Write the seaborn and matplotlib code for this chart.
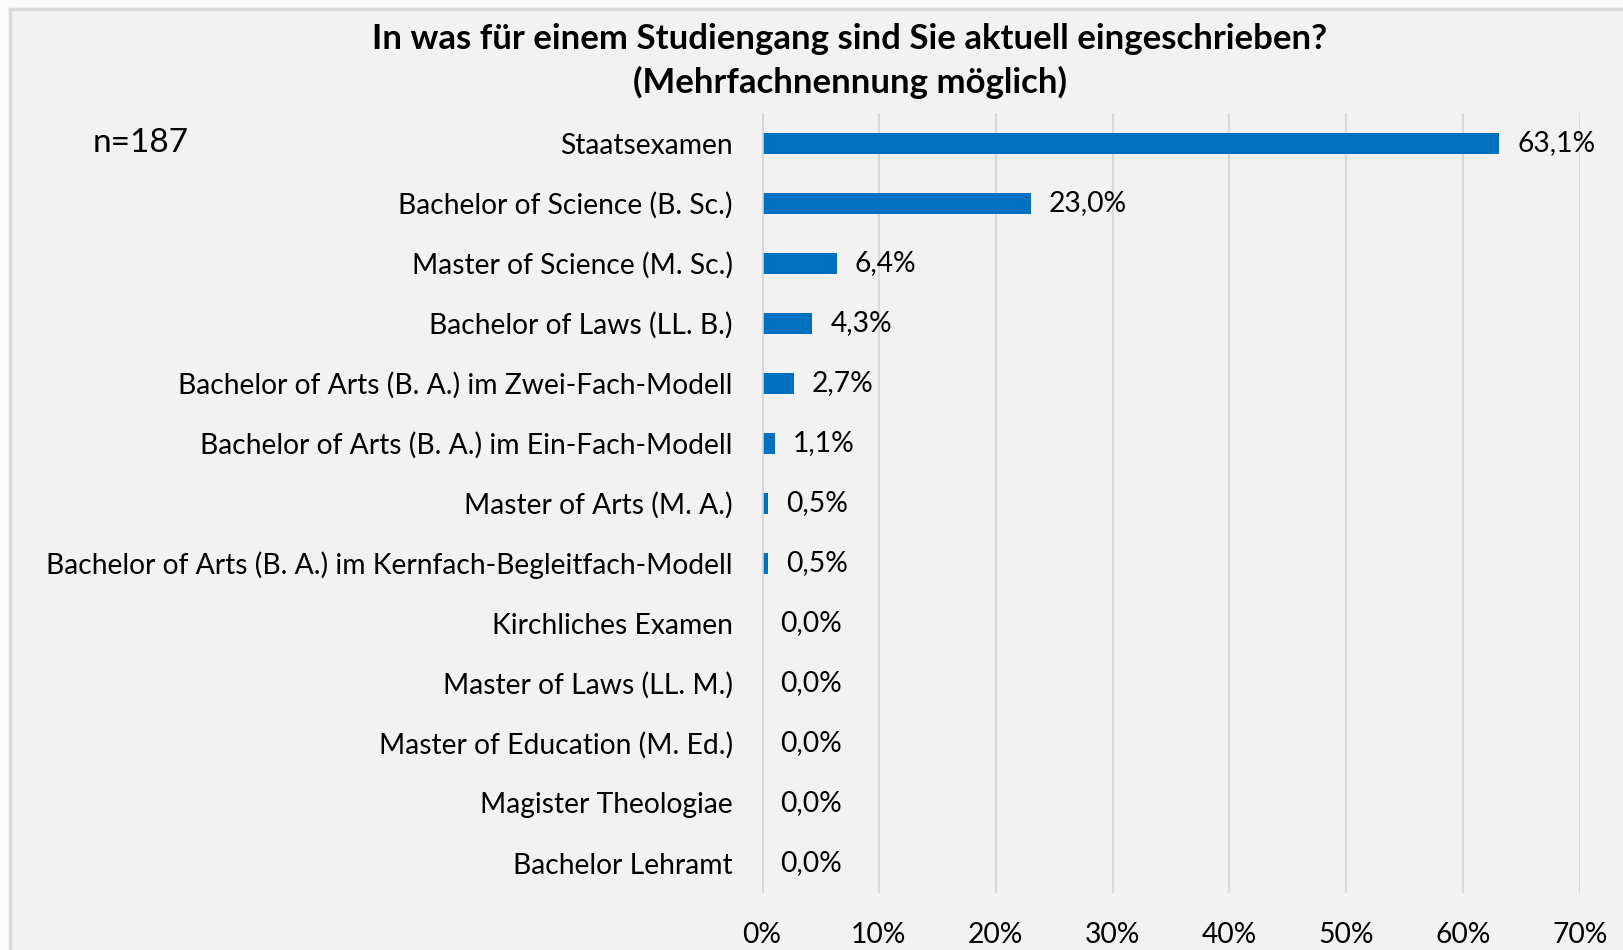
import matplotlib
matplotlib.use("Agg")
import matplotlib.pyplot as plt
import seaborn as sns
import pandas as pd
from matplotlib.patches import Rectangle

categories = [
    "Staatsexamen",
    "Bachelor of Science (B. Sc.)",
    "Master of Science (M. Sc.)",
    "Bachelor of Laws (LL. B.)",
    "Bachelor of Arts (B. A.) im Zwei-Fach-Modell",
    "Bachelor of Arts (B. A.) im Ein-Fach-Modell",
    "Master of Arts (M. A.)",
    "Bachelor of Arts (B. A.) im Kernfach-Begleitfach-Modell",
    "Kirchliches Examen",
    "Master of Laws (LL. M.)",
    "Master of Education (M. Ed.)",
    "Magister Theologiae",
    "Bachelor Lehramt",
]
values = [0.631, 0.230, 0.064, 0.043, 0.027, 0.011, 0.005, 0.005, 0.0, 0.0, 0.0, 0.0, 0.0]
value_labels = ["63,1%", "23,0%", "6,4%", "4,3%", "2,7%", "1,1%", "0,5%", "0,5%",
                "0,0%", "0,0%", "0,0%", "0,0%", "0,0%"]
x_ticks = [0, 0.1, 0.2, 0.3, 0.4, 0.5, 0.6, 0.7]
x_tick_labels = ["0%", "10%", "20%", "30%", "40%", "50%", "60%", "70%"]
title = "In was für einem Studiengang sind Sie aktuell eingeschrieben?\n(Mehrfachnennung möglich)"
n_text = "n=187"

df = pd.DataFrame({"Studiengang": categories, "Anteil": values})

sns.set_theme(style="white")
plt.rcParams["font.family"] = ["Lato", "DejaVu Sans"]

W, H = 1624, 950
fig = plt.figure(figsize=(W / 100, H / 100), dpi=100, facecolor="#fafafa")

# panel background
fig.patches.append(Rectangle((10 / W, -0.01), 1.0, 1 - 9 / H + 0.01, transform=fig.transFigure,
                             facecolor="#f2f2f2", edgecolor="#d9d9d9", linewidth=2.5,
                             zorder=-5))

ax = fig.add_axes([762 / W, 1 - 893 / H, (1580 - 762) / W, (893 - 113) / H])
ax.set_zorder(2)
ax.set_facecolor("none")

sns.barplot(data=df, x="Anteil", y="Studiengang", orient="h", color="#0070C0",
            width=0.35, saturation=1, ax=ax, linewidth=0, zorder=3)

ax.set_xlim(0, 0.7)
ax.set_ylim(12.5, -0.5)
ax.set_xticks(x_ticks)
ax.set_xticklabels(x_tick_labels)
ax.xaxis.grid(True, color="#d9d9d9", linewidth=1.6, zorder=0)
ax.set_axisbelow(True)
ax.axvline(0, color="#d4d4d4", linewidth=2.6, zorder=4)
for s in ax.spines.values():
    s.set_visible(False)
ax.set_xlabel("")
ax.set_ylabel("")
fs = 20.3
ax.tick_params(axis="y", length=0, pad=21, labelsize=fs, labelcolor="#000000")
ax.tick_params(axis="x", length=0, pad=21, labelsize=fs, labelcolor="#000000")

for i, (v, lab) in enumerate(zip(values, value_labels)):
    ax.annotate(lab, xy=(v, i), xytext=(13, 0), textcoords="offset points",
                ha="left", va="center", fontsize=fs, color="#000000")

fig.text(850 / W, 1 - 61 / H, title, ha="center", va="center",
         fontsize=25, fontweight="bold", color="#000000", linespacing=1.43)
fig.text(93 / W, 1 - 143 / H, n_text, ha="left", va="center", fontsize=24, color="#000000")

fig.savefig("out.png", dpi=100, facecolor=fig.get_facecolor())
